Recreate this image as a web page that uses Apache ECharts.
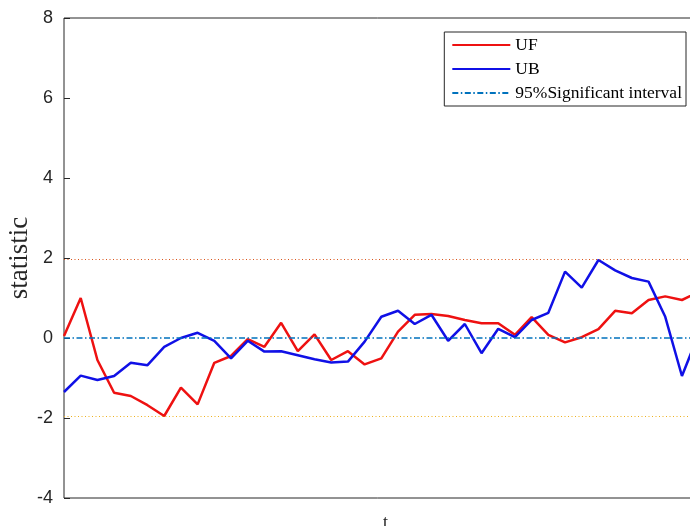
<!DOCTYPE html>
<html>
<head>
<meta charset="utf-8">
<script src="https://cdn.jsdelivr.net/npm/echarts@6/dist/echarts.min.js"></script>
<style>
  html, body { margin: 0; padding: 0; background: #ffffff; }
  #chart { width: 690px; height: 526px; }
</style>
</head>
<body>
<div id="chart"></div>
<script>
// Mann-Kendall sequential statistics (forward UF, backward UB)
const UF = [0.05, 1.0, -0.55, -1.37, -1.45, -1.68, -1.95, -1.24, -1.66, -0.62,
            -0.45, -0.03, -0.22, 0.38, -0.33, 0.09, -0.55, -0.33, -0.66, -0.51,
            0.16, 0.58, 0.60, 0.55, 0.45, 0.37, 0.37, 0.08, 0.52, 0.08,
            -0.11, 0.02, 0.22, 0.68, 0.62, 0.95, 1.04, 0.95, 1.15];
const UB = [-1.35, -0.94, -1.05, -0.95, -0.62, -0.68, -0.22, 0.0, 0.13, -0.07,
            -0.51, -0.07, -0.34, -0.33, -0.43, -0.53, -0.61, -0.59, -0.09, 0.53,
            0.68, 0.35, 0.58, -0.07, 0.35, -0.38, 0.23, 0.02, 0.45, 0.63,
            1.66, 1.26, 1.95, 1.69, 1.50, 1.41, 0.53, -0.95, 0.10];
// 95% significance bounds and the zero reference
const sigUpper = 1.96;
const sigLower = -1.96;
const zeroLevel = 0;
const yTicks = [-4, -2, 0, 2, 4, 6, 8];

const axisColor = '#262626';
const toPairs = arr => arr.map((v, i) => [i, v]);

const chart = echarts.init(document.getElementById('chart'));
chart.setOption({
  animation: false,
  backgroundColor: '#ffffff',
  grid: {
    left: 64, top: 18, width: 643, height: 480,
    outerBoundsMode: 'none', containLabel: false,
    show: true, borderColor: axisColor, borderWidth: 1, backgroundColor: 'transparent'
  },
  xAxis: {
    type: 'value', min: 0, max: 38.5,
    axisLine: { show: false },
    axisTick: { show: false },
    axisLabel: { show: false },
    splitLine: { show: false },
    name: 't', nameLocation: 'middle', nameGap: 16, nameMoveOverlap: false,
    nameTextStyle: { fontFamily: 'Liberation Serif', fontSize: 18, color: axisColor }
  },
  yAxis: {
    type: 'value', min: yTicks[0], max: yTicks[yTicks.length - 1], interval: 2,
    axisLine: { show: false },
    axisTick: { show: true, inside: true, length: 6, lineStyle: { color: axisColor } },
    axisLabel: { fontFamily: 'Liberation Sans', fontSize: 18, color: axisColor, margin: 11 },
    splitLine: { show: false },
    name: 'statistic', nameLocation: 'middle', nameGap: 31, nameRotate: 90, nameMoveOverlap: false,
    nameTextStyle: { fontFamily: 'Liberation Serif', fontSize: 27, color: axisColor }
  },
  legend: {
    orient: 'vertical', right: 4, top: 32,
    backgroundColor: '#ffffff', borderColor: axisColor, borderWidth: 1,
    padding: [4, 4, 4, 7],
    itemWidth: 58, itemHeight: 14, itemGap: 6,
    itemStyle: { opacity: 0 },
    textStyle: { fontFamily: 'Liberation Serif', fontSize: 17.5, color: '#000000', lineHeight: 14 },
    data: ['UF', 'UB', '95%Significant interval']
  },
  series: [
    {
      name: 'UF', type: 'line', data: toPairs(UF),
      symbol: 'none', lineStyle: { color: '#ee1111', width: 2.5 }, itemStyle: { color: '#ee1111' },
      z: 3
    },
    {
      name: 'UB', type: 'line', data: toPairs(UB),
      symbol: 'none', lineStyle: { color: '#1010e6', width: 2.5 }, itemStyle: { color: '#1010e6' },
      z: 3
    },
    {
      name: '95%Significant interval', type: 'line', data: [],
      symbol: 'none',
      lineStyle: { color: '#0072bd', width: 1.5, type: [6, 2.5, 1.5, 2.5] },
      itemStyle: { color: '#0072bd' },
      z: 2,
      markLine: {
        silent: true, symbol: 'none', label: { show: false },
        data: [
          { yAxis: sigUpper, lineStyle: { color: '#d95319', width: 1, type: [1, 2.5] } },
          { yAxis: sigLower, lineStyle: { color: '#edb120', width: 1, type: [1, 2.5] } },
          { yAxis: zeroLevel, lineStyle: { color: '#0072bd', width: 1.5, type: [6, 2.5, 1.5, 2.5] } }
        ]
      }
    }
  ]
});
</script>
</body>
</html>
